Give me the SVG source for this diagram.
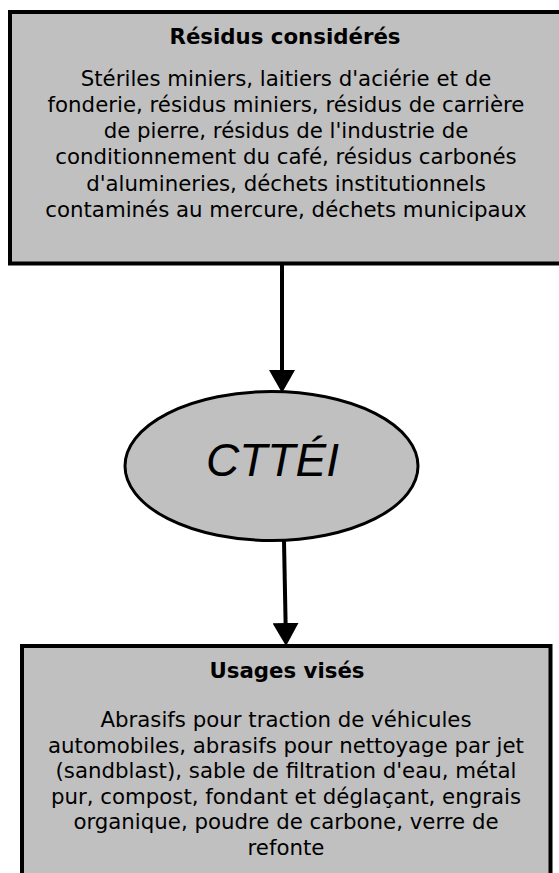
<svg xmlns="http://www.w3.org/2000/svg" width="559" height="873" viewBox="0 0 559 873">
<style>
.box{fill:#c0c0c0;stroke:#000;stroke-width:4}
.ell{fill:#c0c0c0;stroke:#000;stroke-width:3}
.title{font-family:"DejaVu Sans",Verdana,sans-serif;font-weight:bold;font-size:21.3px;fill:#000;text-anchor:middle}
.body{font-family:"DejaVu Sans",Verdana,sans-serif;font-size:21.3px;fill:#000;text-anchor:middle}
.big{font-family:"Liberation Sans",Arial,sans-serif;font-style:italic;font-size:46px;fill:#000;text-anchor:middle}
.conn{stroke:#000;stroke-width:4;fill:none}
</style>
<defs>
<marker id="arrow" viewBox="0 0 23 26" refX="0" refY="13" markerWidth="23" markerHeight="26" markerUnits="userSpaceOnUse" orient="auto">
<path d="M0,0 L23,13 L0,26 z" fill="#000"/>
</marker>
</defs>
<rect width="559" height="873" fill="#fff"/>
<g id="connectors">
<line class="conn" x1="282" y1="264" x2="282" y2="370" marker-end="url(#arrow)"/>
<line class="conn" x1="284" y1="541" x2="285.6" y2="623" marker-end="url(#arrow)"/>
</g>
<g id="residus">
<rect class="box" x="10" y="12" width="560" height="251.5"/>
<text class="title" x="285" y="44">Résidus considérés</text>
<text class="body" x="286" y="86">Stériles miniers, laitiers d'aciérie et de</text>
<text class="body" x="286" y="112">fonderie, résidus miniers, résidus de carrière</text>
<text class="body" x="286" y="138">de pierre, résidus de l'industrie de</text>
<text class="body" x="286" y="164">conditionnement du café, résidus carbonés</text>
<text class="body" x="286" y="191">d'alumineries, déchets institutionnels</text>
<text class="body" x="286" y="217">contaminés au mercure, déchets municipaux</text>
</g>
<g id="ctt">
<ellipse class="ell" cx="271.5" cy="466" rx="146.5" ry="74.5"/>
<text class="big" x="272.5" y="476">CTTÉI</text>
</g>
<g id="usages">
<rect class="box" x="22" y="646" width="528.5" height="240"/>
<text class="title" x="287" y="678">Usages visés</text>
<text class="body" x="286" y="727">Abrasifs pour traction de véhicules</text>
<text class="body" x="286" y="752.5">automobiles, abrasifs pour nettoyage par jet</text>
<text class="body" x="286" y="778">(sandblast), sable de filtration d'eau, métal</text>
<text class="body" x="286" y="803.5">pur, compost, fondant et déglaçant, engrais</text>
<text class="body" x="286" y="829">organique, poudre de carbone, verre de</text>
<text class="body" x="286" y="854.5">refonte</text>
</g>
</svg>
